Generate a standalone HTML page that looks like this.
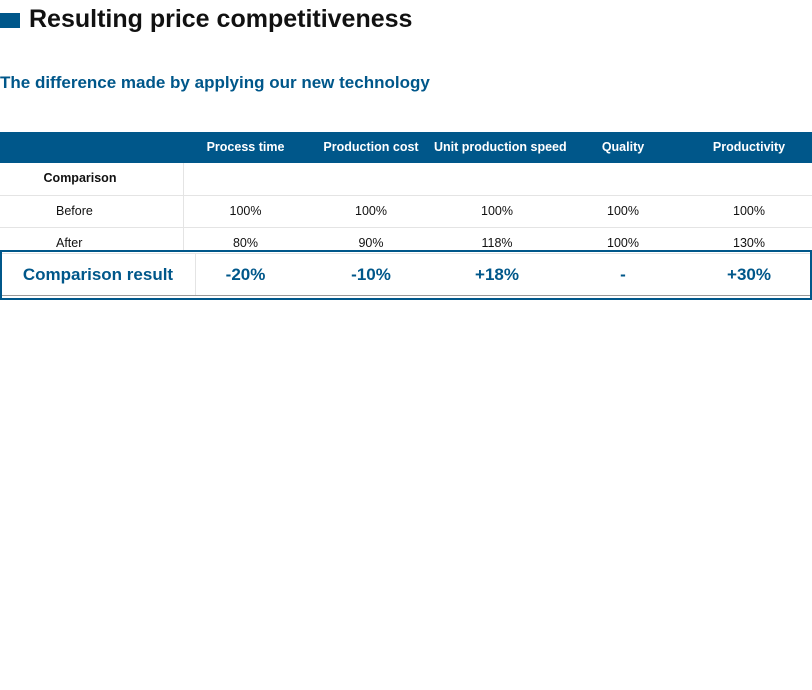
<!DOCTYPE html>
<html><head><meta charset="utf-8">
<style>
*{margin:0;padding:0;box-sizing:border-box}
body{width:812px;height:690px;background:#fff;position:relative;overflow:hidden;font-family:"Liberation Sans",sans-serif}
.a{position:absolute}
.c{position:absolute;text-align:center;white-space:nowrap}
.hd{color:#fff;font-weight:bold;font-size:12.5px;top:140px}
.v{font-size:12.5px;color:#111}
.r{color:#00578a;font-weight:bold;font-size:17px;top:265px}
.hl{position:absolute;left:0;width:812px;height:1px;background:#e4e4e4}
</style></head><body>
<div class="a" style="left:0;top:13px;width:20px;height:15px;background:#00578a"></div>
<div class="a" style="left:29px;top:5px;font-size:25px;font-weight:bold;color:#111;white-space:nowrap">Resulting price competitiveness</div>
<div class="a" style="left:0;top:73px;font-size:17px;font-weight:bold;color:#00578a;white-space:nowrap">The difference made by applying our new technology</div>

<div>
<div class="a" style="left:0;top:132px;width:812px;height:31px;background:#00578a"></div>
<div class="c hd" style="left:183px;width:125px">Process time</div>
<div class="c hd" style="left:308px;width:126px">Production cost</div>
<div class="c hd" style="left:434px;width:126px">Unit production speed</div>
<div class="c hd" style="left:560px;width:126px">Quality</div>
<div class="c hd" style="left:686px;width:126px">Productivity</div>

<div class="a" style="left:183px;top:163px;width:1px;height:88px;background:#e4e4e4"></div>
<div class="hl" style="top:195px"></div>
<div class="hl" style="top:227px"></div>

<div class="c" style="left:0;width:160px;top:171px;font-size:12.5px;font-weight:bold;color:#111">Comparison</div>

<div class="a v" style="left:56px;top:204px">Before</div>
<div class="c v" style="left:183px;width:125px;top:204px">100%</div>
<div class="c v" style="left:308px;width:126px;top:204px">100%</div>
<div class="c v" style="left:434px;width:126px;top:204px">100%</div>
<div class="c v" style="left:560px;width:126px;top:204px">100%</div>
<div class="c v" style="left:686px;width:126px;top:204px">100%</div>

<div class="a v" style="left:56px;top:236px">After</div>
<div class="c v" style="left:183px;width:125px;top:236px">80%</div>
<div class="c v" style="left:308px;width:126px;top:236px">90%</div>
<div class="c v" style="left:434px;width:126px;top:236px">118%</div>
<div class="c v" style="left:560px;width:126px;top:236px">100%</div>
<div class="c v" style="left:686px;width:126px;top:236px">130%</div>

<div class="a" style="left:0;top:250px;width:812px;height:50px;border:2px solid #00578a;background:#fff"></div>
<div class="a" style="left:2px;top:253px;width:808px;height:1px;background:#e4e4e4"></div>
<div class="a" style="left:2px;top:295px;width:808px;height:1px;background:#999"></div>
<div class="a" style="left:195px;top:254px;width:1px;height:41px;background:#e4e4e4"></div>
<div class="c r" style="left:0;width:196px">Comparison result</div>
<div class="c r" style="left:183px;width:125px">-20%</div>
<div class="c r" style="left:308px;width:126px">-10%</div>
<div class="c r" style="left:434px;width:126px">+18%</div>
<div class="c r" style="left:560px;width:126px">-</div>
<div class="c r" style="left:686px;width:126px">+30%</div>
</div>
</body></html>
